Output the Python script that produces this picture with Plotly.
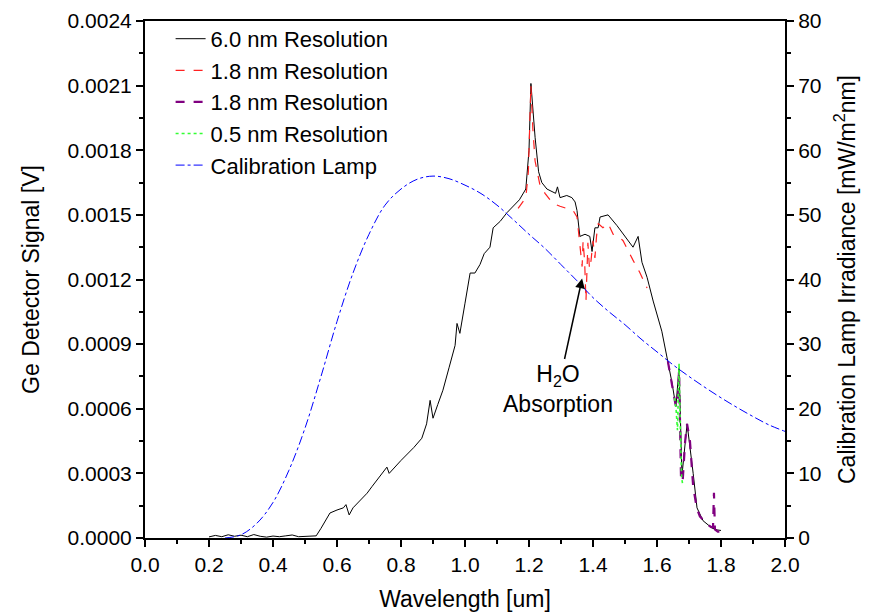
import plotly.graph_objects as go

# ---- 6.0 nm resolution scan (Ge detector signal, V) ----
wl_6nm = [0.20, 0.22, 0.24, 0.26, 0.28, 0.30, 0.32, 0.34, 0.36, 0.38, 0.40, 0.42, 0.44,
          0.46, 0.48, 0.50, 0.52, 0.535, 0.55, 0.565, 0.578, 0.60, 0.62, 0.628, 0.638,
          0.65, 0.67, 0.694, 0.71, 0.73, 0.745, 0.756, 0.763, 0.78, 0.80, 0.82, 0.84,
          0.865, 0.88, 0.891, 0.90, 0.915, 0.931, 0.95, 0.969, 0.975, 0.984, 1.00,
          1.016, 1.031, 1.047, 1.06, 1.078, 1.088, 1.11, 1.131, 1.15, 1.17, 1.19, 1.20,
          1.206, 1.212, 1.219, 1.23, 1.24, 1.256, 1.27, 1.283, 1.289, 1.297, 1.318,
          1.334, 1.344, 1.35, 1.359, 1.375, 1.39, 1.397, 1.406, 1.416, 1.422, 1.447,
          1.475, 1.50, 1.525, 1.541, 1.553, 1.569, 1.588, 1.615, 1.634, 1.647, 1.659,
          1.669, 1.678, 1.694, 1.713, 1.725, 1.744, 1.772, 1.79, 1.80]
sig_6nm = [0.000005, 0.000012, 0.000006, 0.000015, 0.000008, 0.000013, 0.000006,
           0.000016, 0.000008, 0.000004, 0.000009, 0.000006, 0.000010, 0.000014,
           0.000006, 0.000007, 0.000008, 0.00001, 0.000045, 0.00008, 0.000116, 0.00013,
           0.00014, 0.000155, 0.000107, 0.00014, 0.00017, 0.000208, 0.00024, 0.00028,
           0.00031, 0.000329, 0.0003, 0.00033, 0.00036, 0.00039, 0.00042, 0.000463,
           0.00053, 0.000639, 0.000556, 0.00062, 0.000686, 0.00079, 0.000894, 0.000996,
           0.00095, 0.00109, 0.00123, 0.00123, 0.00127, 0.00132, 0.00135, 0.00144,
           0.00147, 0.00151, 0.00154, 0.00157, 0.00162, 0.0018, 0.00211, 0.00198,
           0.00186, 0.0017, 0.00165, 0.00162, 0.00161, 0.0016, 0.00163, 0.00158,
           0.00159, 0.00158, 0.00156, 0.00152, 0.0014, 0.00141, 0.0014, 0.00133,
           0.00144, 0.00144, 0.00149, 0.0015, 0.00145, 0.0014, 0.00135, 0.0014,
           0.00128, 0.00121, 0.0011, 0.00096, 0.00082, 0.00072, 0.00061, 0.00079,
           0.00029, 0.00053, 0.0003, 0.00014, 0.00008, 0.000046, 0.000037, 0.000035]

# ---- 1.8 nm resolution scan, first grating ----
wl_18a = [1.166, 1.18, 1.19, 1.198, 1.206, 1.212, 1.219, 1.234, 1.25, 1.266, 1.28,
          1.297, 1.32, 1.338, 1.35, 1.356, 1.362, 1.366, 1.369, 1.374, 1.378, 1.384,
          1.389, 1.394, 1.40, 1.406, 1.411, 1.416, 1.431, 1.447, 1.463, 1.48, 1.494,
          1.51, 1.525, 1.547, 1.569]
sig_18a = [0.00153, 0.00156, 0.00158, 0.0017, 0.0021, 0.0019, 0.00175, 0.00164, 0.0016,
           0.00157, 0.00155, 0.00154, 0.00153, 0.00152, 0.00149, 0.00139, 0.00132,
           0.00126, 0.00138, 0.00128, 0.0011, 0.00137, 0.00125, 0.00129, 0.00138,
           0.0013, 0.0014, 0.00146, 0.00144, 0.00146, 0.00141, 0.0014, 0.00138,
           0.00133, 0.00129, 0.00123, 0.00116]

# ---- 1.8 nm resolution scan, second grating ----
wl_18b = [1.634, 1.647, 1.659, 1.666, 1.669, 1.675, 1.68, 1.688, 1.694, 1.703, 1.713,
          1.724, 1.734, 1.76, 1.77, 1.775, 1.778, 1.781, 1.79, 1.797]
sig_18b = [0.00082, 0.00072, 0.00061, 0.00067, 0.00078, 0.00028, 0.00026, 0.00045,
           0.00053, 0.00045, 0.00024, 0.00014, 0.0001, 0.00006, 0.00005, 0.00005,
           0.00021, 0.00004, 0.00003, 0.00003]

# ---- 0.5 nm resolution scan ----
wl_05 = [1.655, 1.66, 1.664, 1.667, 1.669, 1.673, 1.677, 1.68]
sig_05 = [0.00065, 0.00059, 0.0005, 0.00065, 0.00081, 0.0005, 0.00028, 0.00025]

# ---- Calibration lamp irradiance (mW/m^2 nm) ----
wl_lamp = [0.25, 0.30, 0.35, 0.40, 0.45, 0.50, 0.55, 0.60, 0.65, 0.70, 0.75, 0.80, 0.85,
           0.90, 0.95, 1.00, 1.05, 1.10, 1.15, 1.20, 1.25, 1.30, 1.35, 1.40, 1.45, 1.50,
           1.55, 1.60, 1.65, 1.70, 1.75, 1.80, 1.85, 1.90, 1.95, 2.00]
irr_lamp = [0.0, 0.5, 2.3, 5.5, 10.5, 17.0, 25.0, 33.5, 41.0, 47.0, 51.5, 54.0, 55.5,
            56.0, 55.6, 54.6, 53.3, 51.5, 49.3, 47.0, 44.8, 42.3, 39.8, 37.2, 35.0, 33.0,
            30.8, 28.8, 26.8, 25.0, 23.3, 21.7, 20.2, 18.8, 17.5, 16.5]

FONT = "Liberation Sans, Arial, sans-serif"
TICK_SIZE = 21
TITLE_SIZE = 23

fig = go.Figure()
fig.add_trace(go.Scatter(x=wl_6nm, y=sig_6nm, mode="lines", name="6.0 nm Resolution",
                         line=dict(color="black", width=1)))
fig.add_trace(go.Scatter(x=wl_18a, y=sig_18a, mode="lines", name="1.8 nm Resolution",
                         line=dict(color="#ff2020", width=1.2, dash="dash")))
fig.add_trace(go.Scatter(x=wl_18b, y=sig_18b, mode="lines", name="1.8 nm Resolution",
                         line=dict(color="#800080", width=2.2, dash="dash")))
fig.add_trace(go.Scatter(x=wl_05, y=sig_05, mode="lines", name="0.5 nm Resolution",
                         line=dict(color="#33ff33", width=1.6, dash="dot")))
fig.add_trace(go.Scatter(x=wl_lamp, y=irr_lamp, mode="lines", name="Calibration Lamp",
                         line=dict(color="#0000ff", width=1, dash="dashdot", shape="spline"),
                         yaxis="y2"))

axis_common = dict(showline=True, linecolor="black", linewidth=2, ticks="outside",
                   ticklen=7, tickwidth=2, tickcolor="black", showgrid=False,
                   zeroline=False, automargin=False,
                   tickfont=dict(family=FONT, size=TICK_SIZE, color="black"))
minor_common = dict(ticks="outside", ticklen=4, tickwidth=2, tickcolor="black")

fig.update_layout(
    width=871, height=616,
    margin=dict(l=145, r=86, t=21, b=78),
    paper_bgcolor="white", plot_bgcolor="white",
    font=dict(family=FONT, color="black"),
    showlegend=True,
    legend=dict(x=0.04, y=1.006, xanchor="left", yanchor="top", bgcolor="rgba(0,0,0,0)",
                font=dict(family=FONT, size=22)),
    xaxis=dict(range=[0, 2.0], dtick=0.2, tickformat=".1f", mirror=True,
               title=dict(text="Wavelength [um]", font=dict(family=FONT, size=TITLE_SIZE),
                          standoff=16),
               minor=dict(dtick=0.1, **minor_common),
               **axis_common),
    yaxis=dict(range=[0, 0.0024], dtick=0.0003, tickformat=".4f", mirror=True,
               title=dict(text="Ge Detector Signal [V]", font=dict(family=FONT, size=TITLE_SIZE),
                          standoff=22),
               minor=dict(dtick=0.00015, **minor_common),
               **axis_common),
    yaxis2=dict(range=[0, 80], dtick=10, overlaying="y", side="right",
                title=dict(text="Calibration Lamp Irradiance [mW/m<sup>2</sup>nm]",
                           font=dict(family=FONT, size=TITLE_SIZE), standoff=18),
                minor=dict(dtick=5, **minor_common),
                **axis_common),
)

fig.add_annotation(x=1.366, y=0.0012046, xref="x", yref="y",
                   text="H<sub>2</sub>O<br>Absorption", showarrow=True,
                   ax=-24, ay=110, arrowhead=2, arrowsize=1.3, arrowwidth=1.5,
                   arrowcolor="black", standoff=0,
                   font=dict(family=FONT, size=TITLE_SIZE, color="black"))

fig.write_html("out.html")
